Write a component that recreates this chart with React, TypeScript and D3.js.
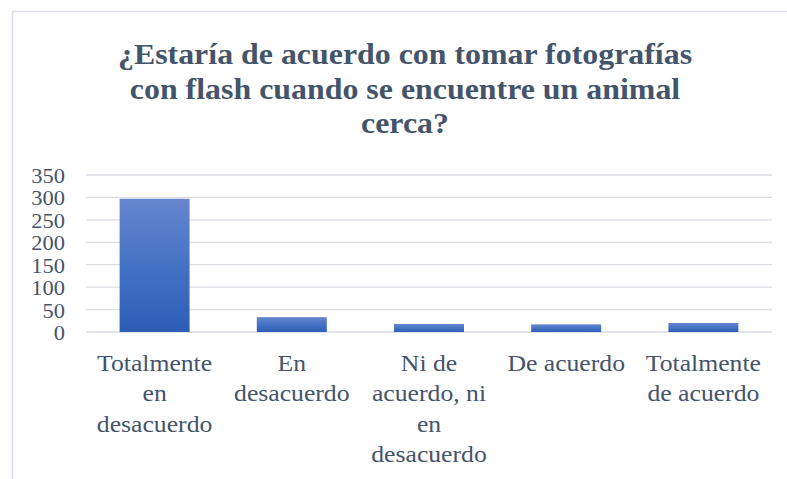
import React from "react";
import * as d3 from "d3";

const titleLines = [
  "¿Estaría de acuerdo con tomar fotografías",
  "con flash cuando se encuentre un animal",
  "cerca?",
];
const categories = [
  "Totalmente en desacuerdo",
  "En desacuerdo",
  "Ni de acuerdo, ni en desacuerdo",
  "De acuerdo",
  "Totalmente de acuerdo",
];
const categoryLines = [
  ["Totalmente", "en", "desacuerdo"],
  ["En", "desacuerdo"],
  ["Ni de", "acuerdo, ni", "en", "desacuerdo"],
  ["De acuerdo"],
  ["Totalmente", "de acuerdo"],
];
const values = [297, 33, 18, 17, 20];
const yTicks = [0, 50, 100, 150, 200, 250, 300, 350];

const W = 787;
const H = 479;
const plotLeft = 86;
const plotRight = 772;
const plotTop = 175;
const plotBottom = 332;
const textColor = "#44546A";
const font = "Liberation Serif";
const SX = 1.07;

function SText(props: {
  x: number;
  y: number;
  size: number;
  anchor: "start" | "middle" | "end";
  bold?: boolean;
  children: React.ReactNode;
}) {
  return (
    <g transform={`translate(${props.x},${props.y}) scale(${SX},1)`}>
      <text
        x={0}
        y={0}
        textAnchor={props.anchor}
        fontFamily={font}
        fontWeight={props.bold ? "bold" : "normal"}
        fontSize={props.size}
        fill={textColor}
      >
        {props.children}
      </text>
    </g>
  );
}

export default function App() {
  const x = d3
    .scaleBand<string>()
    .domain(categories)
    .range([plotLeft, plotRight])
    .paddingInner(0.49)
    .paddingOuter(0.245);
  const y = d3.scaleLinear().domain([0, 350]).range([plotBottom, plotTop]);
  const band = d3.scaleBand<string>().domain(categories).range([plotLeft, plotRight]);

  return (
    <svg
      width={W}
      height={H}
      style={{ position: "absolute", left: 0, top: 0, background: "#fff" }}
    >
      <defs>
        <linearGradient id="barGrad" x1="0" y1="0" x2="0" y2="1">
          <stop offset="0%" stopColor="#6686CD" />
          <stop offset="50%" stopColor="#4472C4" />
          <stop offset="100%" stopColor="#2E5DB6" />
        </linearGradient>
      </defs>
      <rect x={0} y={0} width={W} height={H} fill="#fff" />
      <line x1={12} x2={W} y1={11.5} y2={11.5} stroke="#DCE1E8" strokeWidth={1.5} />
      <line x1={12.5} x2={12.5} y1={11} y2={H} stroke="#DCE1E8" strokeWidth={1.5} />

      {titleLines.map((t, i) => (
        <SText key={i} x={405} y={64 + i * 34.5} size={29.8} anchor="middle" bold>
          {t}
        </SText>
      ))}

      {yTicks.map((t) => (
        <g key={t}>
          <line
            x1={plotLeft}
            x2={plotRight}
            y1={y(t)}
            y2={y(t)}
            stroke="#D9DEE5"
            strokeWidth={1.3}
          />
          <SText x={65} y={y(t) + 8} size={21} anchor="end">
            {t}
          </SText>
        </g>
      ))}

      {categories.map((c, i) => (
        <rect
          key={c}
          x={x(c)}
          y={y(values[i])}
          width={x.bandwidth()}
          height={plotBottom - y(values[i])}
          fill="url(#barGrad)"
        />
      ))}

      {categories.map((c, i) => (
        <g key={c}>
          {categoryLines[i].map((ln, j) => (
            <SText
              key={j}
              x={(band(c) as number) + band.bandwidth() / 2}
              y={371 + j * 30.4}
              size={24}
              anchor="middle"
            >
              {ln}
            </SText>
          ))}
        </g>
      ))}
    </svg>
  );
}
